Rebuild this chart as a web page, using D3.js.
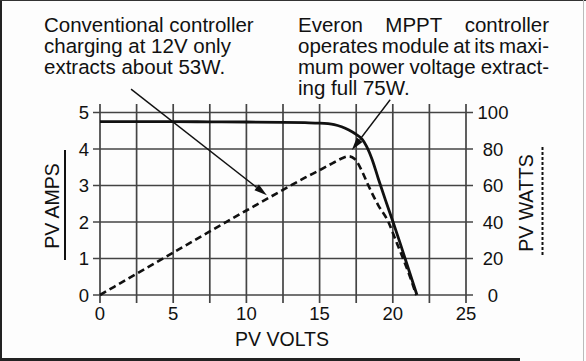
<!DOCTYPE html>
<html><head><meta charset="utf-8">
<script src="https://cdn.jsdelivr.net/npm/d3@7"></script>
<style>html,body{margin:0;padding:0;background:#fff;}svg{display:block;}</style>
</head><body>
<svg id="c" width="586" height="361"></svg>
<script>
// ---- data ----
const xTicks = [0, 5, 10, 15, 20, 25];
const xGrid = [0, 2.5, 5, 7.5, 10, 12.5, 15, 17.5, 20, 22.5, 25];
const ampTicks = [0, 1, 2, 3, 4, 5];
const wattTicks = [0, 20, 40, 60, 80, 100];
const ivVolts = [0, 2.5, 5, 7.5, 10, 12.5, 14, 15, 16, 16.5, 17, 17.5, 17.9, 18.2, 18.6, 19, 19.5, 20, 20.5, 21, 21.65];
const ivAmps  = [4.75, 4.75, 4.75, 4.745, 4.74, 4.73, 4.72, 4.71, 4.67, 4.61, 4.52, 4.40, 4.27, 4.08, 3.70, 3.20, 2.60, 2.02, 1.42, 0.80, 0];
const pvVolts = [0, 2.5, 5, 7.5, 10, 12.5, 14, 15, 15.9, 16.5, 17, 17.4, 17.9, 18.3, 19, 19.7, 20.15, 20.6, 21.05, 21.6];
const pvWatts = [0, 11.6, 23.2, 34.8, 46.3, 57.6, 64.3, 68.4, 72.3, 74.8, 76, 74.5, 67.8, 60.5, 49.3, 40, 31, 22, 12.8, 0];
const noteLeft = ["Conventional controller", "charging at 12V only", "extracts about 53W."];
const noteRight = ["Everon MPPT controller", "operates module at its maxi-", "mum power voltage extract-", "ing full 75W."];
// annotation arrows, in data units: [from V, from A] -> [to V, to A]
const arrowLeft = [[2.12, 5.64], [11.4, 2.73]];
const arrowRight = [[19.82, 5.35], [17.2, 3.97]];

// ---- layout ----
const svg = d3.select("#c");
const x = d3.scaleLinear().domain([0, 25]).range([100, 466]);
const yA = d3.scaleLinear().domain([0, 5]).range([295, 112.5]);
const yW = d3.scaleLinear().domain([0, 100]).range([295, 112.5]);
const font = "'Liberation Sans', Arial, Helvetica, sans-serif";
const ink = "#111";

// frame
svg.append("rect").attr("x",0).attr("y",0).attr("width",586).attr("height",361).attr("fill","#fdfdfd");
svg.append("line").attr("x1",1).attr("x2",1).attr("y1",0).attr("y2",361).attr("stroke","#222").attr("stroke-width",2);
svg.append("line").attr("x1",0).attr("x2",586).attr("y1",0.5).attr("y2",0.5).attr("stroke","#333").attr("stroke-width",1);
svg.append("line").attr("x1",583.5).attr("x2",583.5).attr("y1",0).attr("y2",361).attr("stroke","#bbb").attr("stroke-width",1);
svg.append("line").attr("x1",0).attr("x2",520).attr("y1",359.5).attr("y2",359.5).attr("stroke","#222").attr("stroke-width",3);

// grid
const g = svg.append("g");
g.selectAll(".vg").data(xGrid).join("line")
  .attr("x1", d => x(d)).attr("x2", d => x(d))
  .attr("y1", 104).attr("y2", 303)
  .attr("stroke", "#444").attr("stroke-width", 1.7);
g.selectAll(".hg").data(ampTicks).join("line")
  .attr("x1", 93).attr("x2", 473)
  .attr("y1", d => yA(d)).attr("y2", d => yA(d))
  .attr("stroke", "#444").attr("stroke-width", 1.7);

// tick labels
svg.append("g").selectAll("text").data(xTicks).join("text")
  .attr("x", d => x(d)).attr("y", 313).attr("dy", "0.36em")
  .attr("text-anchor", "middle").attr("font-family", font).attr("font-size", 18.5).attr("fill", ink)
  .text(d => d);
svg.append("g").selectAll("text").data(ampTicks).join("text")
  .attr("x", 84).attr("y", d => yA(d)).attr("dy", "0.36em")
  .attr("text-anchor", "middle").attr("font-family", font).attr("font-size", 18.5).attr("fill", ink)
  .text(d => d);
svg.append("g").selectAll("text").data(wattTicks).join("text")
  .attr("x", 493).attr("y", d => yW(d)).attr("dy", "0.36em")
  .attr("text-anchor", "middle").attr("font-family", font).attr("font-size", 18.5).attr("fill", ink)
  .text(d => d);

// axis titles
svg.append("text").attr("x", 282).attr("y", 339).attr("dy", "0.36em")
  .attr("text-anchor", "middle").attr("font-family", font).attr("font-size", 19.5).attr("fill", ink)
  .text("PV VOLTS");
svg.append("text").attr("transform", "translate(51.5,206) rotate(-90)").attr("dy", "0.36em")
  .attr("text-anchor", "middle").attr("font-family", font).attr("font-size", 19.5).attr("fill", ink)
  .text("PV AMPS");
svg.append("line").attr("x1", 65).attr("x2", 65).attr("y1", 150).attr("y2", 260)
  .attr("stroke", ink).attr("stroke-width", 2);
svg.append("text").attr("transform", "translate(525.5,203) rotate(-90)").attr("dy", "0.36em")
  .attr("text-anchor", "middle").attr("font-family", font).attr("font-size", 19.5).attr("fill", ink)
  .text("PV WATTS");
svg.append("line").attr("x1", 542.5).attr("x2", 542.5).attr("y1", 147).attr("y2", 257)
  .attr("stroke", ink).attr("stroke-width", 2).attr("stroke-dasharray", "3,2");

// curves
const iv = ivVolts.map((v, i) => [v, ivAmps[i]]);
const pv = pvVolts.map((v, i) => [v, pvWatts[i]]);
svg.append("path").datum(pv)
  .attr("d", d3.line().x(d => x(d[0])).y(d => yW(d[1])).curve(d3.curveMonotoneX))
  .attr("fill", "none").attr("stroke", ink).attr("stroke-width", 2.6).attr("stroke-dasharray", "7,4");
svg.append("path").datum(iv)
  .attr("d", d3.line().x(d => x(d[0])).y(d => yA(d[1])).curve(d3.curveMonotoneX))
  .attr("fill", "none").attr("stroke", ink).attr("stroke-width", 2.8);

// arrows
function arrow(a) {
  const x1 = x(a[0][0]), y1 = yA(a[0][1]), x2 = x(a[1][0]), y2 = yA(a[1][1]);
  const ang = Math.atan2(y2 - y1, x2 - x1), L = 13, W = 3.6;
  const bx = x2 - L * Math.cos(ang), by = y2 - L * Math.sin(ang);
  svg.append("line").attr("x1", x1).attr("y1", y1).attr("x2", bx).attr("y2", by)
    .attr("stroke", ink).attr("stroke-width", 1.4);
  const px = -Math.sin(ang) * W, py = Math.cos(ang) * W;
  svg.append("path").attr("d", `M${x2},${y2}L${bx + px},${by + py}L${bx - px},${by - py}Z`).attr("fill", ink);
}
arrow(arrowLeft);
arrow(arrowRight);

// annotation text
const fs = 20.5, lh = 21;
const tl = svg.append("g");
noteLeft.forEach((t, i) => {
  tl.append("text").attr("x", 44).attr("y", 32 + i * lh)
    .attr("font-family", font).attr("font-size", fs).attr("fill", ink).text(t);
});
const tr = svg.append("g");
const left = 298, right = 549;
noteRight.forEach((t, i) => {
  const y = 32 + i * lh;
  const words = t.split(" ");
  if (i === noteRight.length - 1) {
    tr.append("text").attr("x", left).attr("y", y).attr("font-family", font).attr("font-size", fs).attr("fill", ink).text(t);
    return;
  }
  const nodes = words.map(w => tr.append("text").attr("y", y).attr("font-family", font).attr("font-size", fs).attr("fill", ink).text(w));
  const widths = nodes.map(n => n.node().getComputedTextLength());
  const sum = d3.sum(widths);
  const gap = (right - left - sum) / (words.length - 1);
  let cx = left;
  nodes.forEach((n, k) => { n.attr("x", cx); cx += widths[k] + gap; });
});
</script>
</body></html>
